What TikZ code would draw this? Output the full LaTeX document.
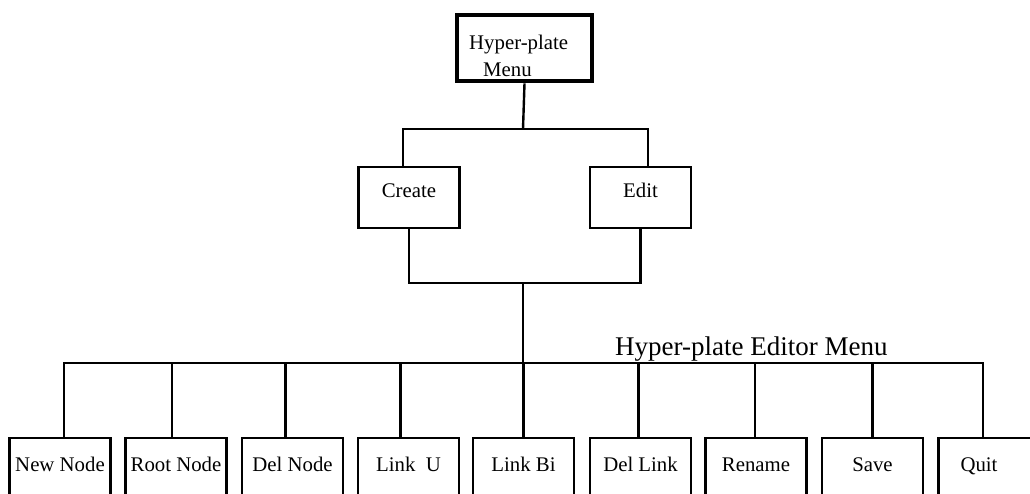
\documentclass[tikz,border=0pt]{standalone}
\usepackage{fontspec}
\setmainfont{Liberation Serif}
\tikzset{
  conn/.style={line width=2.4pt},
  menubox/.style={draw, line width=2.4pt, inner xsep=0pt, inner ysep=0pt, minimum width=101pt, font=\fontsize{20.8}{24}\selectfont},
  midbox/.style={menubox, text height=30pt, text depth=31pt, anchor=north},
  leafbox/.style={menubox, text height=33pt, text depth=60pt, anchor=north},
  topbox/.style={draw, line width=4.8pt, minimum width=135pt, minimum height=66pt, inner sep=0pt},
}
\begin{document}
\begin{tikzpicture}[x=1pt, y=-1pt]
\useasboundingbox (0,0) rectangle (1030,493);
\clip (0,0) rectangle (1030,493);
% top menu
\node[topbox] (top) at (524.5,48) {};
\node[anchor=north west, inner sep=0pt, align=left, font=\fontsize{20.8}{27}\selectfont] (toptext) at (469,34.5) {Hyper-plate\\\hspace*{14pt}Menu};
% second level
\node[midbox] (create) at (409,166) {Create};
\node[midbox] (edit) at (640.5,166) {Edit};
% junctions
\coordinate (j1) at (523,129);
\coordinate (j2) at (523,283);
\coordinate (j3) at (523,363);
% editor menu label
\node[anchor=base west, inner sep=0pt, font=\fontsize{27}{30}\selectfont] (edlabel) at (615,355) {Hyper-plate Editor Menu};
% leaves
\node[leafbox] (n1) at (60,437) {New Node};
\node[leafbox] (n2) at (176,437) {Root Node};
\node[leafbox] (n3) at (292.5,437) {Del Node};
\node[leafbox] (n4) at (408.5,437) {Link~~U};
\node[leafbox] (n5) at (523.5,437) {Link Bi};
\node[leafbox] (n6) at (640.5,437) {Del Link};
\node[leafbox] (n7) at (756,437) {Rename};
\node[leafbox] (n8) at (872.5,437) {Save};
\node[leafbox] (n9) at (989,437) {Quit\hspace*{20pt}};
% connectors
\draw[conn] (top.south) -- (j1);
\draw[conn] ([xshift=-6pt]create.north) |- (j1) -| ([xshift=7.5pt]edit.north);
\draw[conn] (create.south) |- (j2) -| (edit.south);
\draw[conn] (j2) -- (j3);
\draw[conn] ([xshift=4pt]n1.north) |- (j3) -| ([xshift=-6pt]n9.north);
\draw[conn] ([xshift=-4pt]n2.north) -- ([xshift=-4pt]n2.north |- j3);
\draw[conn] ([xshift=-7pt]n3.north) -- ([xshift=-7pt]n3.north |- j3);
\draw[conn] ([xshift=-8pt]n4.north) -- ([xshift=-8pt]n4.north |- j3);
\draw[conn] (n5.north) -- (n5.north |- j3);
\draw[conn] ([xshift=-2pt]n6.north) -- ([xshift=-2pt]n6.north |- j3);
\draw[conn] ([xshift=-1pt]n7.north) -- ([xshift=-1pt]n7.north |- j3);
\draw[conn] (n8.north) -- (n8.north |- j3);
\end{tikzpicture}
\end{document}
